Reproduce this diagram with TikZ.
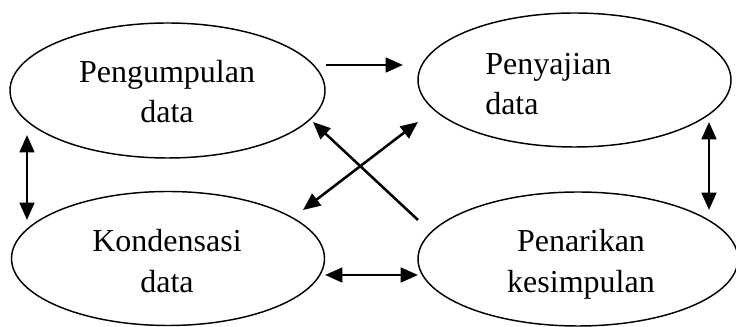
\documentclass[tikz,border=0pt]{standalone}
\usepackage{fontspec}
\setmainfont{Liberation Serif}
\usetikzlibrary{shapes.geometric,arrows.meta}

\tikzset{
  stage/.style={draw, ellipse, line width=1.1pt, inner sep=0pt, outer sep=0pt},
  label/.style={anchor=base, inner sep=0pt, font=\fontsize{24}{30}\selectfont},
  flow/.style={line width=1.9pt, -{Triangle[length=13pt,width=11pt]}},
  twoway/.style={line width=1.9pt, {Triangle[length=13pt,width=11pt]}-{Triangle[length=13pt,width=11pt]}}
}

\begin{document}
\begin{tikzpicture}[x=0.75pt, y=-0.75pt]
  \useasboundingbox (0,0) rectangle (736,327);

  % the four stages
  \node[stage, minimum width=236.25pt, minimum height=101.25pt] (collect) at (167.5,90.5) {};
  \node[stage, minimum width=234.75pt, minimum height=100.5pt] (present) at (574.5,80) {};
  \node[stage, minimum width=234.75pt, minimum height=100.5pt] (condense) at (168,258.5) {};
  \node[stage, minimum width=240pt, minimum height=100.5pt] (conclude) at (578,259) {};

  % stage names
  \node[label] (collect1) at (167,83) {Pengumpulan};
  \node[label] (collect2) at (167,123) {data};
  \node[label, anchor=base west] (present1) at (485,75) {Penyajian};
  \node[label, anchor=base west] (present2) at (485,115) {data};
  \node[label] (condense1) at (167,252) {Kondensasi};
  \node[label] (condense2) at (167,293) {data};
  \node[label] (conclude1) at (581,252) {Penarikan};
  \node[label] (conclude2) at (581,293) {kesimpulan};

  % arrow end points
  \coordinate (ta) at (326,65);
  \coordinate (tb) at (403,65);
  \coordinate (la) at (27,135);
  \coordinate (lb) at (27,220);
  \coordinate (ra) at (709,122);
  \coordinate (rb) at (709,210);
  \coordinate (ba) at (325,275);
  \coordinate (bb) at (418,275);
  \coordinate (da) at (418,220);
  \coordinate (db) at (313,122);
  \coordinate (ea) at (303,210);
  \coordinate (eb) at (418,122);

  % connectors
  \draw[flow] (ta) -- (tb);
  \draw[twoway] (la) -- (lb);
  \draw[twoway] (ra) -- (rb);
  \draw[twoway] (ba) -- (bb);
  \draw[flow] (da) -- (db);
  \draw[twoway] (ea) -- (eb);
\end{tikzpicture}
\end{document}
